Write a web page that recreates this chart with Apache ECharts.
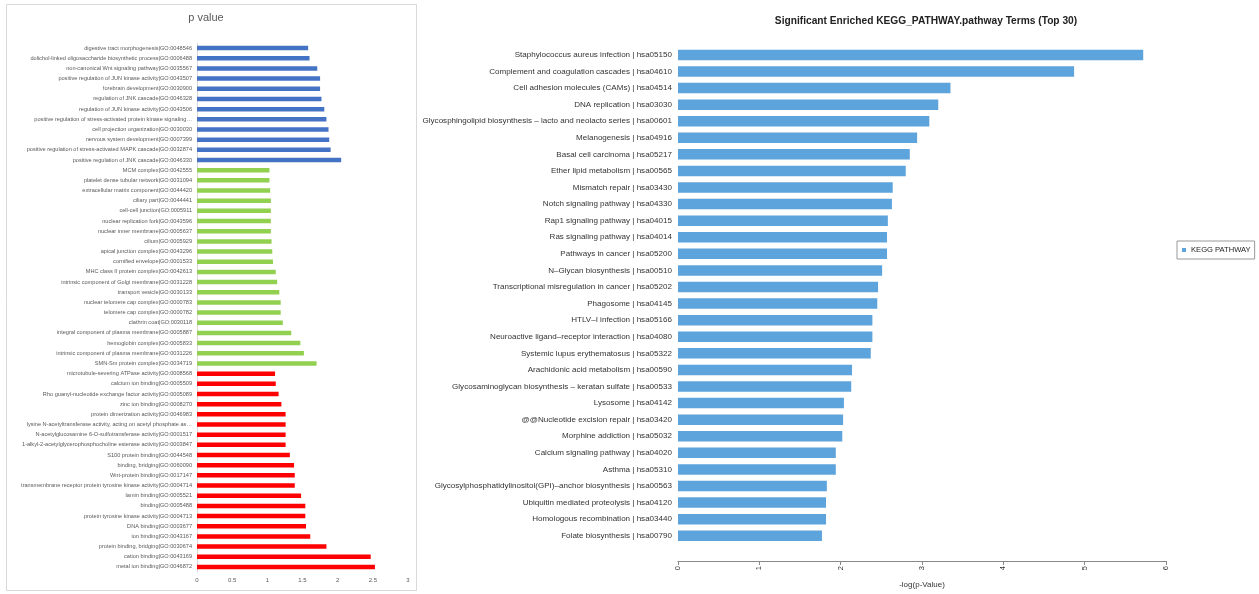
<!DOCTYPE html>
<html>
<head>
<meta charset="utf-8">
<script src="https://cdn.jsdelivr.net/npm/echarts@6/dist/echarts.min.js"></script>
<style>
    html, body { margin: 0; padding: 0; background: #fff; }
    #chart { width: 1259px; height: 594px; }
</style>
</head>
<body>
<div id="chart"></div>
<script>
// left panel: GO terms, top to bottom
var bpTerms = [
    'digestive tract morphogenesis|GO:0048546',
    'dolichol-linked oligosaccharide biosynthetic process|GO:0006488',
    'non-canonical Wnt signaling pathway|GO:0035567',
    'positive regulation of JUN kinase activity|GO:0043507',
    'forebrain development|GO:0030900',
    'regulation of JNK cascade|GO:0046328',
    'regulation of JUN kinase activity|GO:0043506',
    'positive regulation of stress-activated protein kinase signaling…',
    'cell projection organization|GO:0030030',
    'nervous system development|GO:0007399',
    'positive regulation of stress-activated MAPK cascade|GO:0032874',
    'positive regulation of JNK cascade|GO:0046330'
];
var bpValues = [1.58, 1.60, 1.71, 1.75, 1.75, 1.77, 1.81, 1.84, 1.87, 1.88, 1.90, 2.05];

var ccTerms = [
    'MCM complex|GO:0042555',
    'platelet dense tubular network|GO:0031094',
    'extracellular matrix component|GO:0044420',
    'ciliary part|GO:0044441',
    'cell-cell junction|GO:0005911',
    'nuclear replication fork|GO:0043596',
    'nuclear inner membrane|GO:0005637',
    'cilium|GO:0005929',
    'apical junction complex|GO:0043296',
    'cornified envelope|GO:0001533',
    'MHC class II protein complex|GO:0042613',
    'intrinsic component of Golgi membrane|GO:0031228',
    'transport vesicle|GO:0030133',
    'nuclear telomere cap complex|GO:0000783',
    'telomere cap complex|GO:0000782',
    'clathrin coat|GO:0030118',
    'integral component of plasma membrane|GO:0005887',
    'hemoglobin complex|GO:0005833',
    'intrinsic component of plasma membrane|GO:0031226',
    'SMN-Sm protein complex|GO:0034719'
];
var ccValues = [1.03, 1.03, 1.04, 1.05, 1.05, 1.05, 1.05, 1.06, 1.07, 1.08,
    1.12, 1.14, 1.17, 1.19, 1.19, 1.22, 1.34, 1.47, 1.52, 1.70];

var mfTerms = [
    'microtubule-severing ATPase activity|GO:0008568',
    'calcium ion binding|GO:0005509',
    'Rho guanyl-nucleotide exchange factor activity|GO:0005089',
    'zinc ion binding|GO:0008270',
    'protein dimerization activity|GO:0046983',
    'lysine N-acetyltransferase activity, acting on acetyl phosphate as…',
    'N-acetylglucosamine 6-O-sulfotransferase activity|GO:0001517',
    '1-alkyl-2-acetylglycerophosphocholine esterase activity|GO:0003847',
    'S100 protein binding|GO:0044548',
    'binding, bridging|GO:0060090',
    'Wnt-protein binding|GO:0017147',
    'transmembrane receptor protein tyrosine kinase activity|GO:0004714',
    'lamin binding|GO:0005521',
    'binding|GO:0005488',
    'protein tyrosine kinase activity|GO:0004713',
    'DNA binding|GO:0003677',
    'ion binding|GO:0043167',
    'protein binding, bridging|GO:0030674',
    'cation binding|GO:0043169',
    'metal ion binding|GO:0046872'
];
var mfValues = [1.11, 1.12, 1.16, 1.20, 1.26, 1.26, 1.26, 1.26, 1.32, 1.38,
    1.39, 1.39, 1.48, 1.54, 1.54, 1.55, 1.61, 1.84, 2.47, 2.53];

var goTicks = [0, 0.5, 1, 1.5, 2, 2.5, 3];

// right panel: KEGG pathways, top to bottom
var keggTerms = [
    'Staphylococcus aureus infection | hsa05150',
    'Complement and coagulation cascades | hsa04610',
    'Cell adhesion molecules (CAMs) | hsa04514',
    'DNA replication | hsa03030',
    'Glycosphingolipid biosynthesis – lacto and neolacto series | hsa00601',
    'Melanogenesis | hsa04916',
    'Basal cell carcinoma | hsa05217',
    'Ether lipid metabolism | hsa00565',
    'Mismatch repair | hsa03430',
    'Notch signaling pathway | hsa04330',
    'Rap1 signaling pathway | hsa04015',
    'Ras signaling pathway | hsa04014',
    'Pathways in cancer | hsa05200',
    'N–Glycan biosynthesis | hsa00510',
    'Transcriptional misregulation in cancer | hsa05202',
    'Phagosome | hsa04145',
    'HTLV–I infection | hsa05166',
    'Neuroactive ligand–receptor interaction | hsa04080',
    'Systemic lupus erythematosus | hsa05322',
    'Arachidonic acid metabolism | hsa00590',
    'Glycosaminoglycan biosynthesis – keratan sulfate | hsa00533',
    'Lysosome | hsa04142',
    '@@Nucleotide excision repair | hsa03420',
    'Morphine addiction | hsa05032',
    'Calcium signaling pathway | hsa04020',
    'Asthma | hsa05310',
    'Glycosylphosphatidylinositol(GPI)–anchor biosynthesis | hsa00563',
    'Ubiquitin mediated proteolysis | hsa04120',
    'Homologous recombination | hsa03440',
    'Folate biosynthesis | hsa00790'
];
var keggValues = [5.72, 4.87, 3.35, 3.20, 3.09, 2.94, 2.85, 2.80, 2.64, 2.63,
    2.58, 2.57, 2.57, 2.51, 2.46, 2.45, 2.39, 2.39, 2.37, 2.14,
    2.13, 2.04, 2.03, 2.02, 1.94, 1.94, 1.83, 1.82, 1.82, 1.77];

var goTerms = bpTerms.concat(ccTerms, mfTerms);

function padGroup(values, before, after) {
    var out = [];
    for (var i = 0; i < before; i++) out.push('-');
    out = out.concat(values);
    for (var j = 0; j < after; j++) out.push('-');
    return out;
}

var myChart = echarts.init(document.getElementById('chart'));

var excelFont = 'Liberation Sans';
var rFont = 'Liberation Sans';

var option = {
    animation: false,
    backgroundColor: '#fff',
    title: [
        {
            text: 'p value',
            left: 201, top: 7,
            textAlign: 'center',
            textStyle: {fontFamily: excelFont, fontSize: 11, fontWeight: 'normal', color: '#595959'}
        },
        {
            text: 'Significant Enriched KEGG_PATHWAY.pathway Terms (Top 30)',
            left: 921, top: 11,
            textAlign: 'center',
            textStyle: {fontFamily: rFont, fontSize: 10.2, fontWeight: 'bold', color: '#222'}
        }
    ],
    graphic: [
        {
            type: 'rect',
            shape: {x: 6.5, y: 4.5, width: 410, height: 586},
            style: {fill: 'none', stroke: '#d9d9d9', lineWidth: 1},
            silent: true
        }
    ],
    legend: {
        data: ['KEGG PATHWAY'],
        left: 1177, top: 241,
        orient: 'vertical',
        icon: 'rect',
        itemWidth: 4, itemHeight: 4,
        itemGap: 4,
        padding: [5, 4, 5, 5],
        borderColor: '#999',
        borderWidth: 1,
        textStyle: {fontFamily: rFont, fontSize: 7.6, color: '#222'}
    },
    grid: [
        {left: 197, right: 851, top: 43, bottom: 22},
        {left: 678, right: 93, top: 46.6, bottom: 45.6}
    ],
    xAxis: [
        {
            gridIndex: 0,
            type: 'value',
            min: 0, max: 3, interval: 0.5,
            axisLine: {show: false},
            axisTick: {show: false},
            splitLine: {show: false},
            axisLabel: {
                fontFamily: excelFont, fontSize: 6, color: '#595959', margin: 5,
                customValues: goTicks
            }
        },
        {
            gridIndex: 1,
            type: 'value',
            min: 0, max: 6, interval: 1,
            offset: 17,
            name: '-log(p-Value)',
            nameLocation: 'middle',
            nameGap: 20,
            nameTextStyle: {fontFamily: rFont, fontSize: 8, color: '#333'},
            axisLine: {show: true, lineStyle: {color: '#888', width: 1}},
            axisTick: {show: true, length: 4, lineStyle: {color: '#888'}},
            splitLine: {show: false},
            axisLabel: {rotate: 90, fontFamily: rFont, fontSize: 7.5, color: '#333', margin: 5}
        }
    ],
    yAxis: [
        {
            gridIndex: 0,
            type: 'category',
            inverse: true,
            data: goTerms,
            axisLine: {show: true, lineStyle: {color: '#d9d9d9'}},
            axisTick: {show: false},
            axisLabel: {fontFamily: excelFont, fontSize: 5.6, color: '#595959', margin: 5, interval: 0}
        },
        {
            gridIndex: 1,
            type: 'category',
            inverse: true,
            data: keggTerms,
            axisLine: {show: false},
            axisTick: {show: false},
            axisLabel: {fontFamily: rFont, fontSize: 8.05, color: '#333', margin: 6, interval: 0}
        }
    ],
    series: [
        {
            name: 'biological process',
            type: 'bar',
            stack: 'go',
            xAxisIndex: 0, yAxisIndex: 0,
            barWidth: 4.5,
            itemStyle: {color: '#4472C4'},
            data: padGroup(bpValues, 0, ccValues.length + mfValues.length)
        },
        {
            name: 'cellular component',
            type: 'bar',
            stack: 'go',
            xAxisIndex: 0, yAxisIndex: 0,
            barWidth: 4.5,
            itemStyle: {color: '#92D050'},
            data: padGroup(ccValues, bpValues.length, mfValues.length)
        },
        {
            name: 'molecular function',
            type: 'bar',
            stack: 'go',
            xAxisIndex: 0, yAxisIndex: 0,
            barWidth: 4.5,
            itemStyle: {color: '#FF0000'},
            data: padGroup(mfValues, bpValues.length + ccValues.length, 0)
        },
        {
            name: 'KEGG PATHWAY',
            type: 'bar',
            xAxisIndex: 1, yAxisIndex: 1,
            barWidth: 10.5,
            itemStyle: {color: '#5DA3DC'},
            data: keggValues
        }
    ]
};

myChart.setOption(option);
</script>
</body>
</html>
